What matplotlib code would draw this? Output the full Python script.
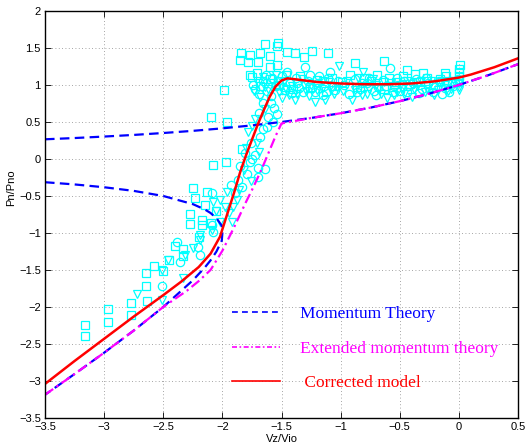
import matplotlib
matplotlib.use('Agg')
import matplotlib.pyplot as plt
from matplotlib.lines import Line2D

# momentum theory, climb branch (upper blue dashed)
mt_climb_x = [-3.5, -3.25, -3.0, -2.75, -2.5, -2.25, -2.0, -1.75, -1.5, -1.25, -1.0, -0.75, -0.5, -0.25, 0.0, 0.25, 0.5]
mt_climb_y = [0.266, 0.283, 0.303, 0.325, 0.351, 0.380, 0.414, 0.454, 0.500, 0.554, 0.618, 0.693, 0.781, 0.883, 1.000, 1.133, 1.281]

# momentum theory, windmill branches joined at -2 (left blue dashed loop)
mt_wb_x = [-3.5, -3.25, -3.0, -2.75, -2.5, -2.25, -2.15, -2.1, -2.05, -2.02, -2.005, -2.0,
           -2.005, -2.02, -2.05, -2.1, -2.15, -2.25, -2.5, -2.75, -3.0, -3.25, -3.5]
mt_wb_y = [-0.314, -0.344, -0.382, -0.431, -0.500, -0.610, -0.681, -0.730, -0.800, -0.868, -0.902, -1.000,
           -1.103, -1.152, -1.250, -1.370, -1.469, -1.640, -2.000, -2.319, -2.618, -2.906, -3.186]

# extended momentum theory (magenta dash-dot)
emt_x = [-3.5, -3.25, -3.0, -2.75, -2.5, -2.4, -2.3, -2.2, -2.1, -2.0, -1.95, -1.9, -1.85, -1.8,
         -1.75, -1.7, -1.65, -1.6, -1.55, -1.5, -1.25, -1.0, -0.75, -0.5, -0.25, 0.0, 0.25, 0.5]
emt_y = [-3.186, -2.906, -2.618, -2.319, -2.0, -1.89, -1.78, -1.65, -1.50, -1.24, -1.08, -0.92, -0.75, -0.58,
         -0.42, -0.25, -0.07, 0.12, 0.31, 0.48, 0.554, 0.618, 0.693, 0.781, 0.883, 1.000, 1.133, 1.281]

# corrected model (red)
cm_x = [-3.5, -3.25, -3.0, -2.75, -2.5, -2.35, -2.2, -2.1, -2.02, -1.96, -1.9, -1.85, -1.8, -1.75, -1.7,
        -1.65, -1.6, -1.55, -1.5, -1.45, -1.4, -1.3, -1.2, -1.0, -0.8, -0.6, -0.4, -0.2, 0.0, 0.1, 0.2,
        0.3, 0.4, 0.5]
cm_y = [-3.04, -2.73, -2.43, -2.13, -1.84, -1.66, -1.46, -1.28, -1.05, -0.75, -0.45, -0.18, 0.05, 0.26, 0.47,
        0.66, 0.84, 0.98, 1.06, 1.09, 1.08, 1.06, 1.04, 1.02, 1.01, 1.01, 1.02, 1.05, 1.10, 1.14, 1.19,
        1.24, 1.30, 1.36]

# measured points, squares
sq_x = [-3.16, -3.16, -2.97, -2.97, -2.77, -2.77, -2.64, -2.65, -2.65, -2.50, -2.45, -2.58, -2.40,
        -2.33, -2.33, -2.27, -2.27, -2.17, -2.17, -2.10, -2.20, -2.25, -2.13, -2.23, -2.15, -2.05,
        -2.08, -1.97, -1.83, -2.10, -1.96, -1.99,
        -1.64, -1.54, -1.53, -1.84, -1.77, -1.68, -1.60, -1.45, -1.39, -1.31, -1.24, -1.11, -1.85,
        -1.78, -1.70, -1.71, -1.77, -1.60, -1.54, -1.75, -0.88, -0.63, -0.44, -0.30, -0.12, 0.01,
        0.0, 0.0, 0.0, 0.0,
        -1.68, -1.60, -1.52, -1.46, -1.40, -1.34, -1.26, -1.20, -1.12, -1.07, -0.99, -0.92, -0.86,
        -0.80, -0.74, -0.69, -0.63, -0.59, -0.53, -0.47, -0.41, -0.37, -0.33, -0.27, -0.22, -0.16,
        -0.11, -0.06]
sq_y = [-2.24, -2.39, -2.03, -2.20, -1.95, -2.11, -1.92, -1.54, -1.72, -1.51, -1.36, -1.45, -1.18,
        -1.22, -1.31, -0.74, -0.88, -0.82, -0.89, -0.86, -1.05, -0.39, -0.45, -0.53, -0.62, -0.70,
        -0.08, -0.04, 0.14, 0.57, 0.50, 0.93,
        1.56, 1.52, 1.57, 1.43, 1.41, 1.43, 1.39, 1.45, 1.43, 1.38, 1.46, 1.43, 1.34,
        1.31, 1.31, 1.16, 1.14, 1.24, 1.27, 1.11, 1.30, 1.32, 1.20, 1.16, 1.16, 1.27,
        1.18, 1.22, 1.12, 1.05,
        0.98, 1.08, 1.00, 1.14, 0.95, 1.12, 0.97, 1.07, 0.92, 1.10, 1.04, 1.13, 0.97,
        1.10, 1.06, 1.14, 0.94, 1.09, 1.04, 1.12, 1.01, 1.15, 1.04, 1.10, 1.00, 1.08,
        1.12, 1.05]

# measured points, circles
ci_x = [-1.72, -1.66, -1.62, -1.58, -1.55, -1.50, -1.47, -1.43, -1.38, -1.35, -1.30, -1.28, -1.22,
        -1.18, -1.14, -1.09, -1.05, -1.02, -0.97, -0.93, -0.88, -0.84, -0.78, -0.72, -0.68, -0.64,
        -0.58, -0.55, -0.50, -0.46, -0.42, -0.36, -0.31, -0.26, -0.20, -0.14, -0.10, -0.05, -0.01,
        -1.74, -1.69, -1.63, -1.59, -1.53, -1.49, -1.45, -1.41, -1.37, -1.32, -1.26, -1.24, -1.19,
        -1.15, -1.11, -1.07, -0.76, -0.70, -0.62, -0.56, -0.52, -0.44, -0.39, -0.34, -0.28, -0.22,
        -0.17, -0.12, -0.08, -0.03, -0.86, -0.82,
        -1.54, -1.61, -1.62, -1.56, -1.81, -1.77, -1.70, -1.64, -1.70, -1.87, -1.89, -1.83, -2.09,
        -2.38, -2.36, -2.21, -2.09, -2.08, -2.51, -2.19, -1.66, -1.68, -1.75,
        -1.79, -1.76, -1.72, -1.85, -1.93, -1.66, -1.59, -1.57, -1.69]
ci_y = [0.95, 1.05, 0.92, 1.10, 0.98, 1.12, 0.93, 1.02, 1.10, 0.96, 1.24, 1.05, 0.90,
        1.12, 0.99, 1.18, 0.93, 1.06, 1.00, 0.88, 1.08, 0.95, 1.03, 0.92, 0.97, 1.07,
        1.23, 0.99, 0.92, 1.05, 0.98, 1.08, 0.94, 1.02, 0.97, 0.88, 1.04, 0.99, 1.08,
        1.00, 0.88, 1.14, 0.85, 1.05, 0.97, 1.17, 0.89, 1.03, 0.91, 1.13, 0.96, 1.02,
        0.87, 1.09, 0.98, 1.10, 0.86, 0.99, 0.90, 1.10, 0.91, 1.02, 0.89, 1.09, 0.91,
        1.05, 0.96, 0.90, 1.02, 0.90, 1.02,
        0.61, 0.57, 0.43, 0.69, 0.08, -0.04, -0.12, -0.14, -0.24, -0.28, -0.46, -0.38, -0.46,
        -1.12, -1.39, -1.19, -0.89, -0.99, -1.72, -1.30, 0.75, 0.30, 0.0,
        -0.20, 0.22, 0.05, -0.10, -0.35, 0.40, 0.75, 0.50, 0.62]

# measured points, triangles
tr_x = [-1.70, -1.66, -1.64, -1.57, -1.52, -1.48, -1.44, -1.41, -1.39, -1.33, -1.29, -1.25, -1.22,
        -1.16, -1.13, -1.10, -1.06, -1.01, -1.03, -0.98, -0.90, -0.85, -0.82, -0.81, -0.76, -0.70,
        -0.66, -0.61, -0.57, -0.52, -0.48, -0.44, -0.40, -0.35, -0.29, -0.24, -0.18, -0.12, -0.07,
        0.0, 0.0, 0.0,
        -1.73, -1.68, -1.61, -1.55, -1.50, -1.46, -1.37, -1.31, -1.27, -1.20, -1.15, -1.08, -0.95,
        -0.88, -0.78, -0.73, -0.68, -0.63, -0.55, -0.50, -0.46, -0.38, -0.32, -0.27, -0.21, -0.15,
        -0.09, -0.04,
        -1.72, -1.78, -1.71, -1.96, -1.88, -2.02, -1.98, -1.91, -2.08, -1.94, -2.19, -2.19, -2.32,
        -2.46, -2.51, -2.33, -2.51, -2.72, -2.09, -2.02, -1.80, -1.75,
        -1.86, -1.82, -1.76, -1.69, -1.64, -1.92, -2.05, -2.25]
tr_y = [1.02, 1.11, 0.97, 1.03, 0.90, 1.06, 0.86, 0.99, 0.80, 1.08, 0.92, 1.00, 0.77,
        0.95, 0.80, 1.04, 0.88, 1.25, 0.97, 0.92, 0.80, 1.09, 0.86, 1.18, 0.95, 1.00,
        0.88, 0.82, 1.02, 0.91, 0.96, 1.06, 0.84, 0.98, 0.90, 1.05, 0.93, 1.00, 0.95,
        0.97, 1.02, 0.93,
        0.92, 0.84, 0.95, 1.13, 0.83, 0.95, 0.88, 1.00, 0.85, 0.93, 1.06, 0.93, 1.05,
        0.93, 0.88, 1.08, 0.94, 1.04, 0.86, 1.00, 0.88, 0.94, 1.06, 0.95, 0.87, 1.04,
        0.92, 1.06,
        0.54, 0.36, 0.21, -0.45, -0.55, -0.55, -0.65, -0.65, -0.58, -0.73, -1.03, -1.09, -1.30,
        -1.36, -1.50, -1.61, -1.91, -1.83, -0.96, -0.85, 0.15, 0.45,
        -0.42, -0.15, -0.30, 0.10, 0.67, -0.85, -0.70, -1.20]

legend_labels = ['Momentum Theory', 'Extended momentum theory', ' Corrected model']

plt.rcParams['font.family'] = ['Liberation Sans', 'DejaVu Sans']

fig = plt.figure(figsize=(5.25, 4.48), dpi=100)
ax = fig.add_axes([0.0857, 0.067, 0.901, 0.9085])

cyan = '#00ffff'
mk = dict(linestyle='none', markerfacecolor='none', markeredgecolor=cyan, markeredgewidth=0.9, markersize=6)
ax.plot(sq_x, sq_y, marker='s', **mk)
ax.plot(ci_x, ci_y, marker='o', **mk)
ax.plot(tr_x, tr_y, marker='v', **mk)

ax.plot(mt_climb_x, mt_climb_y, color='#0000ff', lw=1.6, dashes=(4.3, 2.4))
ax.plot(mt_wb_x, mt_wb_y, color='#0000ff', lw=1.6, dashes=(4.3, 2.4))
ax.plot(emt_x, emt_y, color='#ff00ff', lw=1.6, dashes=(4.5, 1.8, 1.0, 1.8))
ax.plot(cm_x, cm_y, color='#ff0000', lw=1.8)

ax.set_xlim(-3.5, 0.5)
ax.set_ylim(-3.5, 2)
ax.set_xticks([-3.5, -3, -2.5, -2, -1.5, -1, -0.5, 0, 0.5])
ax.set_yticks([-3.5, -3, -2.5, -2, -1.5, -1, -0.5, 0, 0.5, 1, 1.5, 2])
ax.set_xticklabels(['\u22123.5', '\u22123', '\u22122.5', '\u22122', '\u22121.5', '\u22121', '\u22120.5', '0', '0.5'])
ax.set_yticklabels(['\u22123.5', '\u22123', '\u22122.5', '\u22122', '\u22121.5', '\u22121', '\u22120.5', '0', '0.5', '1', '1.5', '2'])
ax.tick_params(direction='in', length=4, width=0.6, top=True, right=True, labelsize=8, pad=3)
ax.grid(True, color='#888888', linestyle=(0, (1, 3)), linewidth=0.6)
for s in ax.spines.values():
    s.set_linewidth(1.0)

ax.set_xlabel('Vz/Vio', fontsize=8, labelpad=1)
ax.set_ylabel('Pn/Pno', fontsize=8, labelpad=2)
ax.yaxis.set_label_coords(-0.062, 0.565)

handles = [Line2D([], [], color='#0000ff', lw=1.2, dashes=(3.5, 2.5)),
           Line2D([], [], color='#ff00ff', lw=1.2, dashes=(3, 1.5, 1, 1.5)),
           Line2D([], [], color='#ff0000', lw=1.2)]
leg = ax.legend(handles, legend_labels, loc='upper left', bbox_to_anchor=(0.395, 0.275),
                frameon=False, handlelength=2.8, handletextpad=1.1, labelspacing=1.05,
                borderpad=0, borderaxespad=0,
                prop={'family': 'Liberation Serif', 'size': 12.5})
for t, c in zip(leg.get_texts(), ['#0000ff', '#ff00ff', '#ff0000']):
    t.set_color(c)

fig.savefig('out.png', dpi=100)
